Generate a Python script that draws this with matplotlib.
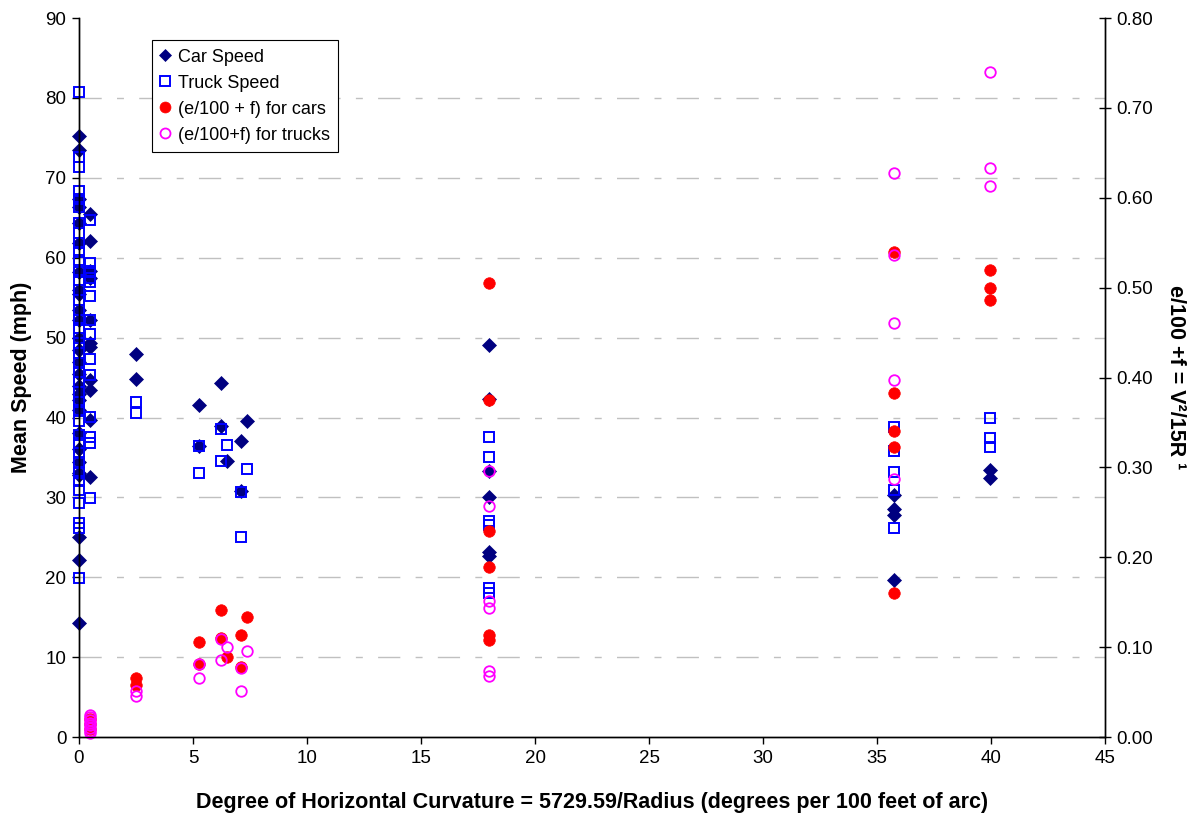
import matplotlib
matplotlib.use("Agg")
import matplotlib.pyplot as plt
from matplotlib.ticker import MultipleLocator, FormatStrFormatter

plt.rcParams['font.family'] = ['Liberation Sans', 'DejaVu Sans']

# Degree of curvature for each measured site (x positions)
curvature = [0, 0.5, 2.5, 5.28, 6.21, 6.48, 7.09, 7.38, 17.98, 35.76, 39.96]

# Mean car speeds (mph) per site
car_speed = [
    [75.2, 73.5, 67.4, 66.3, 64.3, 61.8, 58.2, 56.0, 55.5, 53.5, 52.2, 49.9, 48.5,
     47.0, 45.5, 44.0, 43.0, 42.2, 41.0, 38.0, 36.0, 34.4, 33.1, 32.8, 25.1, 22.2, 14.3],
    [65.5, 62.1, 58.4, 57.5, 52.2, 49.3, 48.8, 44.7, 43.5, 39.7, 32.6],
    [47.9, 44.8],
    [41.55, 36.4],
    [44.3, 38.9],
    [34.5],
    [37.0, 30.8],
    [39.5],
    [49.1, 42.3, 33.3, 30.0, 23.1, 22.65],
    [30.3, 28.6, 27.8, 19.65],
    [33.4, 32.4],
]

# Mean truck speeds (mph) per site
truck_speed = [
    [80.7, 72.6, 71.4, 68.4, 67.4, 66.3, 64.3, 63.1, 61.8, 60.7, 59.7, 58.2, 57.2,
     56.0, 54.7, 53.5, 52.2, 51.2, 49.9, 49.3, 48.1, 46.8, 45.7, 44.5, 43.2, 42.0,
     40.9, 39.5, 37.8, 36.8, 35.6, 34.4, 33.1, 32.0, 30.9, 29.3, 26.8, 26.2, 19.9],
    [64.7, 59.3, 58.4, 57.5, 57.0, 55.2, 52.2, 50.5, 47.3, 45.3, 40.1, 37.5, 36.8, 29.9],
    [42.0, 40.6],
    [36.4, 33.0],
    [38.6, 34.5],
    [36.5],
    [30.7, 25.1],
    [33.5],
    [37.6, 35.0, 27.1, 26.5, 18.6, 18.0],
    [38.8, 35.8, 33.2, 30.9, 26.2],
    [39.9, 37.4, 36.3],
]

# e/100 + f for cars (right axis)
ef_cars = [
    [],
    [0.020, 0.014, 0.009],
    [0.066, 0.058],
    [0.106, 0.081],
    [0.141, 0.110],
    [0.089],
    [0.113, 0.078],
    [0.134],
    [0.505, 0.375, 0.229, 0.189, 0.114, 0.108],
    [0.540, 0.383, 0.340, 0.323, 0.160],
    [0.520, 0.500, 0.486],
]

# e/100 + f for trucks (right axis)
ef_trucks = [
    [],
    [0.025, 0.022, 0.019, 0.016, 0.013, 0.010, 0.007, 0.005],
    [0.051, 0.046],
    [0.081, 0.066],
    [0.109, 0.086],
    [0.100],
    [0.077, 0.051],
    [0.096],
    [0.296, 0.257, 0.151, 0.144, 0.073, 0.068],
    [0.628, 0.536, 0.461, 0.397, 0.287],
    [0.740, 0.633, 0.613],
]


def expand(groups):
    xs, ys = [], []
    for deg, vals in zip(curvature, groups):
        xs += [deg] * len(vals)
        ys += vals
    return xs, ys


fig = plt.figure(figsize=(11.96, 8.16), dpi=100)
ax = fig.add_axes([0.066, 0.0968, 0.858, 0.881])
ax2 = ax.twinx()

# grid behind everything
ax.set_axisbelow(True)
ax.yaxis.grid(True, color='#c0c0c0', linewidth=1.0, linestyle=(0, (16, 11, 5, 11)))

x, y = expand(car_speed)
h1, = ax.plot(x, y, linestyle='none', marker='D', markersize=6.8,
              color='#000080', markeredgewidth=0.5, label='Car Speed', clip_on=False)
x, y = expand(truck_speed)
h2, = ax.plot(x, y, linestyle='none', marker='s', markersize=7.2,
              markerfacecolor='none', markeredgecolor='#0000ff', markeredgewidth=1.4,
              label='Truck Speed', clip_on=False)
x, y = expand(ef_cars)
h3, = ax2.plot(x, y, linestyle='none', marker='o', markersize=8.3,
               color='#ff0000', markeredgewidth=0.5, label='(e/100 + f) for cars',
               clip_on=False)
x, y = expand(ef_trucks)
h4, = ax2.plot(x, y, linestyle='none', marker='o', markersize=7.6,
               markerfacecolor='none', markeredgecolor='#ff00ff', markeredgewidth=1.3,
               label='(e/100+f) for trucks', clip_on=False)

ax.set_xlim(0, 45)
ax.set_ylim(0, 90)
ax2.set_ylim(0, 0.8)
ax.xaxis.set_major_locator(MultipleLocator(5))
ax.yaxis.set_major_locator(MultipleLocator(10))
ax2.yaxis.set_major_locator(MultipleLocator(0.1))
ax2.yaxis.set_major_formatter(FormatStrFormatter('%.2f'))

for a in (ax, ax2):
    a.spines['top'].set_visible(False)
    for s in a.spines.values():
        s.set_linewidth(1.0)
ax.tick_params(axis='both', direction='out', length=5, width=1, labelsize=13.5, pad=4)
ax2.tick_params(axis='y', direction='inout', length=8, width=1, labelsize=13.5, pad=4)

# no gridline along the top edge
fig.canvas.draw()
for tick, line in zip(ax.get_yticks(), ax.yaxis.get_gridlines()):
    if tick >= 90 or tick <= 0:
        line.set_visible(False)

ax.set_xlabel('Degree of Horizontal Curvature = 5729.59/Radius (degrees per 100 feet of arc)',
              fontsize=15.5, fontweight='bold', labelpad=18)
ax.set_ylabel('Mean Speed (mph)', fontsize=15.5, fontweight='bold', labelpad=10)
ax2.set_ylabel('e/100 +f = V²/15R ¹', fontsize=15.5, fontweight='bold',
               rotation=270, labelpad=24)

leg = ax2.legend(handles=[h1, h2, h3, h4], loc='upper left',
                 bbox_to_anchor=(0.071, 0.969), borderaxespad=0, fontsize=13,
                 frameon=True, fancybox=False, framealpha=1, edgecolor='black',
                 handlelength=0.6, handletextpad=0.4, labelspacing=0.5,
                 borderpad=0.45, markerscale=0.95)
leg.get_frame().set_linewidth(0.8)

fig.savefig('out.png', dpi=100)
